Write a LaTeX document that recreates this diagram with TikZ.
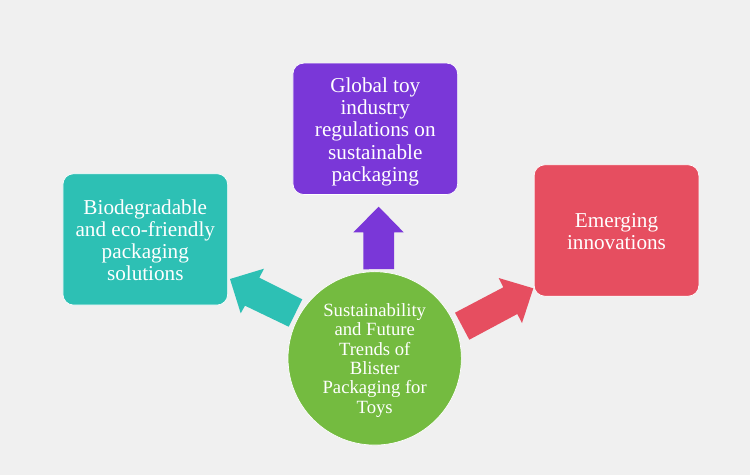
\documentclass[tikz,border=0pt]{standalone}
\usepackage{fontspec}
\setmainfont{Liberation Serif}
\definecolor{bgc}{HTML}{F0F0F0}
\definecolor{tealc}{HTML}{2DC0B4}
\definecolor{purp}{HTML}{7A37D8}
\definecolor{redd}{HTML}{E64E60}
\definecolor{grn}{HTML}{74BB40}
\newcommand{\firstline}[1]{\rule{0pt}{#1}}
\tikzset{
 px/.style={x=0.75pt,y=-0.75pt},
 card/.style={draw=white,fill=#1,line width=0.5pt,rounded corners=8pt,text=white,align=center,font=\fontsize{15.9}{16.7}\selectfont,inner sep=0pt,minimum width=123.5pt,minimum height=98.5pt},
 blockarrow/.style={fill=#1}
}
\begin{document}
\begin{tikzpicture}[px]
\path[use as bounding box,fill=bgc] (0,0) rectangle (750,475);
\node[card=purp] (top) at (375.3,128.8) {\firstline{15.4pt}Global toy\\industry\\regulations on\\sustainable\\packaging};
\node[card=tealc] (left) at (145.3,239.4) {\firstline{12.4pt}Biodegradable\\and eco-friendly\\packaging\\solutions};
\node[card=redd] (right) at (616.5,230.5) {\firstline{12pt}Emerging\\innovations};
\node[circle,draw=white,line width=0.5pt,fill=grn,minimum size=130pt,inner sep=0pt,text=white,align=center,font=\fontsize{14}{14.6}\selectfont] (c) at (374.7,358.4) {\firstline{12.6pt}Sustainability\\and Future\\Trends of\\Blister\\Packaging for\\Toys};
\fill[blockarrow=purp] (363.3,269.3) -- (363.3,232.3) -- (353.3,232.3) -- (378.7,206.7) -- (403.7,232.3) -- (394,232.3) -- (394,269) -- cycle;
\fill[blockarrow=tealc] (302.3,299.3) -- (259.3,277.7) -- (264,268.7) -- (230,279) -- (240.7,313.3) -- (245,305.7) -- (288.7,326.7) -- cycle;
\fill[blockarrow=redd] (455,312.7) -- (503.3,287.3) -- (498.7,278) -- (533.3,288.3) -- (522,323) -- (517.3,314) -- (469.3,339.7) -- cycle;
\end{tikzpicture}
\end{document}
